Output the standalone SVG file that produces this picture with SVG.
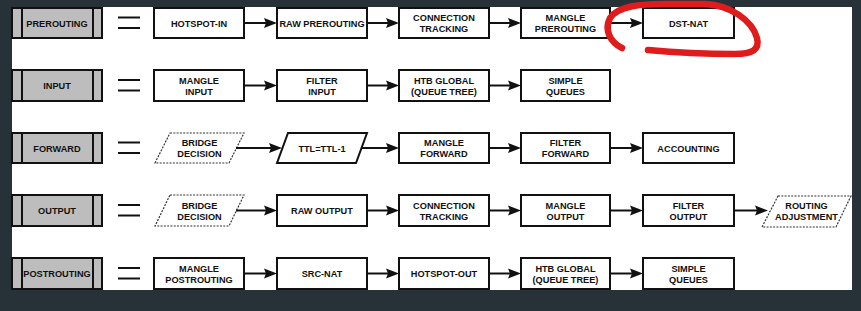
<svg xmlns="http://www.w3.org/2000/svg" width="861" height="311" viewBox="0 0 861 311">
<defs>
<style>
.bg{fill:#263238}
.panel{fill:#ffffff}
.lab{fill:#bdbdbd;stroke:#111;stroke-width:2}
.div{stroke:#111;stroke-width:2}
.eq{stroke:#111;stroke-width:2}
.box{fill:#fff;stroke:#111;stroke-width:2}
.dash{fill:#fff;stroke:#333;stroke-width:1.2;stroke-dasharray:2 1.3}
.t{font-family:"Liberation Sans",Arial,sans-serif;font-weight:bold;font-size:9.2px;fill:#111;text-anchor:middle}
.arr{stroke:#111;stroke-width:2;fill:none;marker-end:url(#ah)}
.red{fill:none;stroke:#e01b1b;stroke-width:6.5;stroke-linecap:round;stroke-linejoin:round}
</style>
<marker id="ah" markerUnits="userSpaceOnUse" markerWidth="13" markerHeight="11" refX="2" refY="5" orient="auto" overflow="visible">
<path d="M0,0 L13,5 L0,10 L2,5 z" fill="#111"/>
</marker>
</defs>
<rect class="bg" x="0" y="0" width="861" height="311"/>
<rect class="panel" x="12" y="7" width="840" height="283"/>

<!-- Row labels -->
<g id="lbl-prerouting"><rect class="lab" x="12" y="8" width="90" height="30"/><line class="div" x1="22" y1="8" x2="22" y2="38"/><line class="div" x1="93" y1="8" x2="93" y2="38"/><text class="t" x="57" y="26.5">PREROUTING</text></g>
<g id="lbl-input"><rect class="lab" x="12" y="70" width="90" height="31"/><line class="div" x1="22" y1="70" x2="22" y2="101"/><line class="div" x1="93" y1="70" x2="93" y2="101"/><text class="t" x="57" y="89">INPUT</text></g>
<g id="lbl-forward"><rect class="lab" x="12" y="133" width="90" height="30"/><line class="div" x1="22" y1="133" x2="22" y2="163"/><line class="div" x1="93" y1="133" x2="93" y2="163"/><text class="t" x="57" y="151.5">FORWARD</text></g>
<g id="lbl-output"><rect class="lab" x="12" y="195" width="90" height="31"/><line class="div" x1="22" y1="195" x2="22" y2="226"/><line class="div" x1="93" y1="195" x2="93" y2="226"/><text class="t" x="57" y="214">OUTPUT</text></g>
<g id="lbl-postrouting"><rect class="lab" x="12" y="258" width="90" height="31"/><line class="div" x1="22" y1="258" x2="22" y2="289"/><line class="div" x1="93" y1="258" x2="93" y2="289"/><text class="t" x="57" y="277">POSTROUTING</text></g>

<!-- Equals signs -->
<g id="equals">
<line class="eq" x1="118" y1="17.5" x2="140" y2="17.5"/><line class="eq" x1="118" y1="28" x2="140" y2="28"/>
<line class="eq" x1="118" y1="80" x2="140" y2="80"/><line class="eq" x1="118" y1="90.5" x2="140" y2="90.5"/>
<line class="eq" x1="118" y1="142.5" x2="140" y2="142.5"/><line class="eq" x1="118" y1="153" x2="140" y2="153"/>
<line class="eq" x1="118" y1="205" x2="140" y2="205"/><line class="eq" x1="118" y1="215.5" x2="140" y2="215.5"/>
<line class="eq" x1="118" y1="268" x2="140" y2="268"/><line class="eq" x1="118" y1="278.5" x2="140" y2="278.5"/>
</g>

<!-- Row 1: PREROUTING -->
<g id="pre-hotspot-in"><rect class="box" x="154" y="8" width="90" height="30"/><text class="t" x="199" y="26.5">HOTSPOT-IN</text></g>
<g id="pre-raw"><rect class="box" x="277" y="8" width="90" height="30"/><text class="t" x="322" y="26.5">RAW PREROUTING</text></g>
<g id="pre-conntrack"><rect class="box" x="399" y="8" width="90" height="30"/><text class="t" x="444" y="21">CONNECTION</text><text class="t" x="444" y="32">TRACKING</text></g>
<g id="pre-mangle"><rect class="box" x="521" y="8" width="89" height="30"/><text class="t" x="565.5" y="21">MANGLE</text><text class="t" x="565.5" y="32">PREROUTING</text></g>
<g id="pre-dstnat"><rect class="box" x="643" y="8" width="91" height="30"/><text class="t" x="688.5" y="26.5">DST-NAT</text></g>

<!-- Row 2: INPUT -->
<g id="in-mangle"><rect class="box" x="154" y="70" width="90" height="31"/><text class="t" x="199" y="83.5">MANGLE</text><text class="t" x="199" y="94.5">INPUT</text></g>
<g id="in-filter"><rect class="box" x="277" y="70" width="90" height="31"/><text class="t" x="322" y="83.5">FILTER</text><text class="t" x="322" y="94.5">INPUT</text></g>
<g id="in-htb"><rect class="box" x="399" y="70" width="90" height="31"/><text class="t" x="444" y="83.5">HTB GLOBAL</text><text class="t" x="444" y="94.5">(QUEUE TREE)</text></g>
<g id="in-simple"><rect class="box" x="521" y="70" width="89" height="31"/><text class="t" x="565.5" y="83.5">SIMPLE</text><text class="t" x="565.5" y="94.5">QUEUES</text></g>

<!-- Row 3: FORWARD -->
<g id="fw-bridge"><polygon class="dash" points="170,133 244,133 229,163 155,163"/><text class="t" x="199.5" y="146">BRIDGE</text><text class="t" x="199.5" y="157">DECISION</text></g>
<g id="fw-ttl"><polygon class="box" points="288,133 367,133 356,163 277,163"/><text class="t" x="322" y="151.5">TTL=TTL-1</text></g>
<g id="fw-mangle"><rect class="box" x="399" y="133" width="90" height="30"/><text class="t" x="444" y="146">MANGLE</text><text class="t" x="444" y="157">FORWARD</text></g>
<g id="fw-filter"><rect class="box" x="521" y="133" width="89" height="30"/><text class="t" x="565.5" y="146">FILTER</text><text class="t" x="565.5" y="157">FORWARD</text></g>
<g id="fw-accounting"><rect class="box" x="643" y="133" width="91" height="30"/><text class="t" x="688.5" y="151.5">ACCOUNTING</text></g>

<!-- Row 4: OUTPUT -->
<g id="out-bridge"><polygon class="dash" points="170,195 244,195 229,226 155,226"/><text class="t" x="199.5" y="208.5">BRIDGE</text><text class="t" x="199.5" y="219.5">DECISION</text></g>
<g id="out-raw"><rect class="box" x="277" y="195" width="90" height="31"/><text class="t" x="322" y="214">RAW OUTPUT</text></g>
<g id="out-conntrack"><rect class="box" x="399" y="195" width="90" height="31"/><text class="t" x="444" y="208.5">CONNECTION</text><text class="t" x="444" y="219.5">TRACKING</text></g>
<g id="out-mangle"><rect class="box" x="521" y="195" width="89" height="31"/><text class="t" x="565.5" y="208.5">MANGLE</text><text class="t" x="565.5" y="219.5">OUTPUT</text></g>
<g id="out-filter"><rect class="box" x="643" y="195" width="91" height="31"/><text class="t" x="688.5" y="208.5">FILTER</text><text class="t" x="688.5" y="219.5">OUTPUT</text></g>
<g id="out-routing"><polygon class="dash" points="778,196 851,196 836,227 762,227"/><text class="t" x="806.5" y="208.5">ROUTING</text><text class="t" x="806.5" y="219.5">ADJUSTMENT</text></g>

<!-- Row 5: POSTROUTING -->
<g id="post-mangle"><rect class="box" x="154" y="258" width="90" height="31"/><text class="t" x="199" y="271.5">MANGLE</text><text class="t" x="199" y="282.5">POSTROUTING</text></g>
<g id="post-srcnat"><rect class="box" x="277" y="258" width="90" height="31"/><text class="t" x="322" y="277">SRC-NAT</text></g>
<g id="post-hotspot-out"><rect class="box" x="399" y="258" width="90" height="31"/><text class="t" x="444" y="277">HOTSPOT-OUT</text></g>
<g id="post-htb"><rect class="box" x="521" y="258" width="89" height="31"/><text class="t" x="565.5" y="271.5">HTB GLOBAL</text><text class="t" x="565.5" y="282.5">(QUEUE TREE)</text></g>
<g id="post-simple"><rect class="box" x="643" y="258" width="91" height="31"/><text class="t" x="688.5" y="271.5">SIMPLE</text><text class="t" x="688.5" y="282.5">QUEUES</text></g>

<!-- Connectors -->
<g id="connectors">
<line class="arr" x1="244" y1="23" x2="266" y2="23"/>
<line class="arr" x1="367" y1="23" x2="388" y2="23"/>
<line class="arr" x1="489" y1="23" x2="510" y2="23"/>
<line class="arr" x1="610" y1="23" x2="632" y2="23"/>

<line class="arr" x1="244" y1="85.5" x2="266" y2="85.5"/>
<line class="arr" x1="367" y1="85.5" x2="388" y2="85.5"/>
<line class="arr" x1="489" y1="85.5" x2="510" y2="85.5"/>

<line class="arr" x1="236" y1="148" x2="271" y2="148"/>
<line class="arr" x1="361" y1="148" x2="388" y2="148"/>
<line class="arr" x1="489" y1="148" x2="510" y2="148"/>
<line class="arr" x1="610" y1="148" x2="632" y2="148"/>

<line class="arr" x1="236" y1="210.5" x2="266" y2="210.5"/>
<line class="arr" x1="367" y1="210.5" x2="388" y2="210.5"/>
<line class="arr" x1="489" y1="210.5" x2="510" y2="210.5"/>
<line class="arr" x1="610" y1="210.5" x2="632" y2="210.5"/>
<line class="arr" x1="734" y1="210.5" x2="757" y2="210.5"/>

<line class="arr" x1="244" y1="273.5" x2="266" y2="273.5"/>
<line class="arr" x1="367" y1="273.5" x2="388" y2="273.5"/>
<line class="arr" x1="489" y1="273.5" x2="510" y2="273.5"/>
<line class="arr" x1="610" y1="273.5" x2="632" y2="273.5"/>
</g>

<!-- Red hand-drawn highlight -->
<path class="red" d="M622,48 C610,42 604,30 610,18 C618,6 640,4 665,4 L705,4 C730,5 752,20 757,38 C760,50 752,54 735,54 C710,54 680,53 648,50"/>
</svg>
